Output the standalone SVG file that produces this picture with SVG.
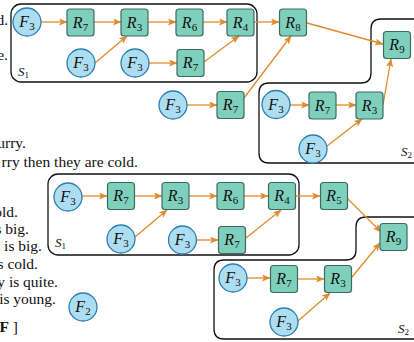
<svg xmlns="http://www.w3.org/2000/svg" width="414" height="342" viewBox="0 0 414 342">
<defs>
<marker id="a" markerUnits="userSpaceOnUse" markerWidth="10" markerHeight="8" refX="8" refY="3.5" orient="auto">
<path d="M0,0 L8.5,3.5 L0,7 L2,3.5 Z" fill="#E08A2B"/>
</marker>
<style>
.r{fill:#7FCFBD;stroke:#3D6B61;stroke-width:1.2}
.f{fill:#ADDDF0;stroke:#2B7FB0;stroke-width:1.3}
.e{stroke:#E08A2B;stroke-width:1.3;fill:none;marker-end:url(#a)}
.g{fill:none;stroke:#111;stroke-width:1.3}
.l{font-family:"Liberation Serif",serif;font-size:16px;text-anchor:middle;fill:#111}
.l .i{font-style:italic}
.l .s{font-size:11px}
.t{font-family:"Liberation Serif",serif;font-size:15.5px;text-anchor:end;fill:#111}
.sl{font-family:"Liberation Serif",serif;font-size:13px;fill:#111}
</style>
</defs>
<g id="text">
<text class="t" x="8" y="25">d.</text>
<text class="t" x="8" y="60">e.</text>
<text class="t" x="26" y="148">urry.</text>
<text class="t" x="138" y="167">rry then they are cold.</text>
<text class="t" x="18" y="217">old.</text>
<text class="t" x="29" y="234">s big.</text>
<text class="t" x="42" y="251">is big.</text>
<text class="t" x="38" y="269">s cold.</text>
<text class="t" x="58" y="287">y is quite.</text>
<text class="t" x="56" y="304">is young.</text>
<text class="t" x="18" y="332"><tspan font-weight="bold">F</tspan> ]</text>
</g>
<g id="groups">
<rect class="g" x="11" y="4" width="246" height="78" rx="10"/>
<text class="sl" x="18" y="76"><tspan font-style="italic">S</tspan><tspan font-size="9" dy="2">1</tspan></text>
<path class="g" d="M420,19 H381 Q371,19 371,29 V73 Q371,83 361,83 H269 Q259,83 259,93 V153 Q259,163 269,163 H420"/>
<text class="sl" x="401" y="156"><tspan font-style="italic">S</tspan><tspan font-size="9" dy="2">2</tspan></text>
<rect class="g" x="48" y="174" width="251" height="81" rx="10"/>
<text class="sl" x="55" y="247"><tspan font-style="italic">S</tspan><tspan font-size="9" dy="2">1</tspan></text>
<path class="g" d="M420,217 H366 Q356,217 356,227 V250 Q356,260 346,260 H224 Q214,260 214,270 V329 Q214,339 224,339 H420"/>
<text class="sl" x="398" y="333"><tspan font-style="italic">S</tspan><tspan font-size="9" dy="2">2</tspan></text>
</g>
<g id="connectors">
<line class="e" x1="41" y1="22" x2="67" y2="22"/>
<line class="e" x1="94" y1="22" x2="121" y2="22"/>
<line class="e" x1="148" y1="22" x2="176" y2="22"/>
<line class="e" x1="203" y1="22" x2="227" y2="22"/>
<line class="e" x1="254" y1="22" x2="279" y2="22"/>
<line class="e" x1="307" y1="23" x2="383" y2="44"/>
<line class="e" x1="95" y1="63" x2="127" y2="36"/>
<line class="e" x1="149" y1="63" x2="177" y2="63"/>
<line class="e" x1="204" y1="62" x2="239" y2="36"/>
<line class="e" x1="187" y1="105" x2="217" y2="105"/>
<line class="e" x1="244" y1="98" x2="291" y2="36"/>
<line class="e" x1="290" y1="105" x2="309" y2="105"/>
<line class="e" x1="336" y1="105" x2="356" y2="105"/>
<line class="e" x1="327" y1="146" x2="362" y2="119"/>
<line class="e" x1="383" y1="105" x2="391" y2="59"/>
<line class="e" x1="82" y1="196" x2="107" y2="196"/>
<line class="e" x1="135" y1="196" x2="162" y2="196"/>
<line class="e" x1="189" y1="196" x2="217" y2="196"/>
<line class="e" x1="244" y1="196" x2="268" y2="196"/>
<line class="e" x1="296" y1="196" x2="320" y2="196"/>
<line class="e" x1="347" y1="198" x2="381" y2="232"/>
<line class="e" x1="135" y1="237" x2="167" y2="210"/>
<line class="e" x1="197" y1="240" x2="218" y2="240"/>
<line class="e" x1="246" y1="238" x2="281" y2="210"/>
<line class="e" x1="247" y1="278" x2="270" y2="278"/>
<line class="e" x1="298" y1="279" x2="324" y2="279"/>
<line class="e" x1="298" y1="321" x2="330" y2="293"/>
<line class="e" x1="352" y1="277" x2="380" y2="243"/>
</g>
<g id="f1"><circle class="f" cx="27" cy="22" r="14"/><text class="l" x="27" y="27"><tspan class="i">F</tspan><tspan class="s" dy="3">3</tspan></text></g>
<g id="r1"><rect class="r" x="67" y="9" width="27" height="27" rx="3"/><text class="l" x="80.5" y="27.5"><tspan class="i">R</tspan><tspan class="s" dy="3">7</tspan></text></g>
<g id="r2"><rect class="r" x="121" y="9" width="27" height="27" rx="3"/><text class="l" x="134.5" y="27.5"><tspan class="i">R</tspan><tspan class="s" dy="3">3</tspan></text></g>
<g id="r3"><rect class="r" x="176" y="9" width="27" height="27" rx="3"/><text class="l" x="189.5" y="27.5"><tspan class="i">R</tspan><tspan class="s" dy="3">6</tspan></text></g>
<g id="r4"><rect class="r" x="227" y="9" width="27" height="27" rx="3"/><text class="l" x="240.5" y="27.5"><tspan class="i">R</tspan><tspan class="s" dy="3">4</tspan></text></g>
<g id="r5"><rect class="r" x="279.5" y="9" width="27" height="27" rx="3"/><text class="l" x="293" y="27.5"><tspan class="i">R</tspan><tspan class="s" dy="3">8</tspan></text></g>
<g id="r6"><rect class="r" x="383.5" y="31.5" width="27" height="27" rx="3"/><text class="l" x="397" y="50"><tspan class="i">R</tspan><tspan class="s" dy="3">9</tspan></text></g>
<g id="f2"><circle class="f" cx="81" cy="63" r="14"/><text class="l" x="81" y="68"><tspan class="i">F</tspan><tspan class="s" dy="3">3</tspan></text></g>
<g id="f3"><circle class="f" cx="135" cy="63" r="14"/><text class="l" x="135" y="68"><tspan class="i">F</tspan><tspan class="s" dy="3">3</tspan></text></g>
<g id="r7"><rect class="r" x="177" y="49.5" width="27" height="27" rx="3"/><text class="l" x="190.5" y="68"><tspan class="i">R</tspan><tspan class="s" dy="3">7</tspan></text></g>
<g id="f4"><circle class="f" cx="173" cy="105" r="14"/><text class="l" x="173" y="110"><tspan class="i">F</tspan><tspan class="s" dy="3">3</tspan></text></g>
<g id="r8"><rect class="r" x="217" y="91.5" width="27" height="27" rx="3"/><text class="l" x="230.5" y="110"><tspan class="i">R</tspan><tspan class="s" dy="3">7</tspan></text></g>
<g id="f5"><circle class="f" cx="276" cy="104.5" r="14"/><text class="l" x="276" y="109.5"><tspan class="i">F</tspan><tspan class="s" dy="3">3</tspan></text></g>
<g id="r9"><rect class="r" x="309" y="92" width="27" height="27" rx="3"/><text class="l" x="322.5" y="110.5"><tspan class="i">R</tspan><tspan class="s" dy="3">7</tspan></text></g>
<g id="r10"><rect class="r" x="356" y="92" width="27" height="27" rx="3"/><text class="l" x="369.5" y="110.5"><tspan class="i">R</tspan><tspan class="s" dy="3">3</tspan></text></g>
<g id="f6"><circle class="f" cx="313" cy="149" r="14"/><text class="l" x="313" y="154"><tspan class="i">F</tspan><tspan class="s" dy="3">3</tspan></text></g>
<g id="f7"><circle class="f" cx="68" cy="197" r="14"/><text class="l" x="68" y="202"><tspan class="i">F</tspan><tspan class="s" dy="3">3</tspan></text></g>
<g id="r11"><rect class="r" x="107.5" y="182.5" width="27" height="27" rx="3"/><text class="l" x="121" y="201"><tspan class="i">R</tspan><tspan class="s" dy="3">7</tspan></text></g>
<g id="r12"><rect class="r" x="162" y="182.5" width="27" height="27" rx="3"/><text class="l" x="175.5" y="201"><tspan class="i">R</tspan><tspan class="s" dy="3">3</tspan></text></g>
<g id="r13"><rect class="r" x="217" y="182.5" width="27" height="27" rx="3"/><text class="l" x="230.5" y="201"><tspan class="i">R</tspan><tspan class="s" dy="3">6</tspan></text></g>
<g id="r14"><rect class="r" x="268.5" y="182.5" width="27" height="27" rx="3"/><text class="l" x="282" y="201"><tspan class="i">R</tspan><tspan class="s" dy="3">4</tspan></text></g>
<g id="r15"><rect class="r" x="320.5" y="182.5" width="27" height="27" rx="3"/><text class="l" x="334" y="201"><tspan class="i">R</tspan><tspan class="s" dy="3">5</tspan></text></g>
<g id="r16"><rect class="r" x="380" y="223.5" width="27" height="27" rx="3"/><text class="l" x="393.5" y="242"><tspan class="i">R</tspan><tspan class="s" dy="3">9</tspan></text></g>
<g id="f8"><circle class="f" cx="121" cy="239" r="14"/><text class="l" x="121" y="244"><tspan class="i">F</tspan><tspan class="s" dy="3">3</tspan></text></g>
<g id="f9"><circle class="f" cx="182.5" cy="240" r="14"/><text class="l" x="182.5" y="245"><tspan class="i">F</tspan><tspan class="s" dy="3">3</tspan></text></g>
<g id="r17"><rect class="r" x="218.5" y="226.5" width="27" height="27" rx="3"/><text class="l" x="232" y="245"><tspan class="i">R</tspan><tspan class="s" dy="3">7</tspan></text></g>
<g id="f10"><circle class="f" cx="233" cy="278" r="14"/><text class="l" x="233" y="283"><tspan class="i">F</tspan><tspan class="s" dy="3">3</tspan></text></g>
<g id="r18"><rect class="r" x="270.5" y="265.5" width="27" height="27" rx="3"/><text class="l" x="284" y="284"><tspan class="i">R</tspan><tspan class="s" dy="3">7</tspan></text></g>
<g id="r19"><rect class="r" x="324.5" y="265.5" width="27" height="27" rx="3"/><text class="l" x="338" y="284"><tspan class="i">R</tspan><tspan class="s" dy="3">3</tspan></text></g>
<g id="f11"><circle class="f" cx="284" cy="322" r="14"/><text class="l" x="284" y="327"><tspan class="i">F</tspan><tspan class="s" dy="3">3</tspan></text></g>
<g id="f12"><circle class="f" cx="83" cy="307" r="14"/><text class="l" x="83" y="312"><tspan class="i">F</tspan><tspan class="s" dy="3">2</tspan></text></g>
</svg>
